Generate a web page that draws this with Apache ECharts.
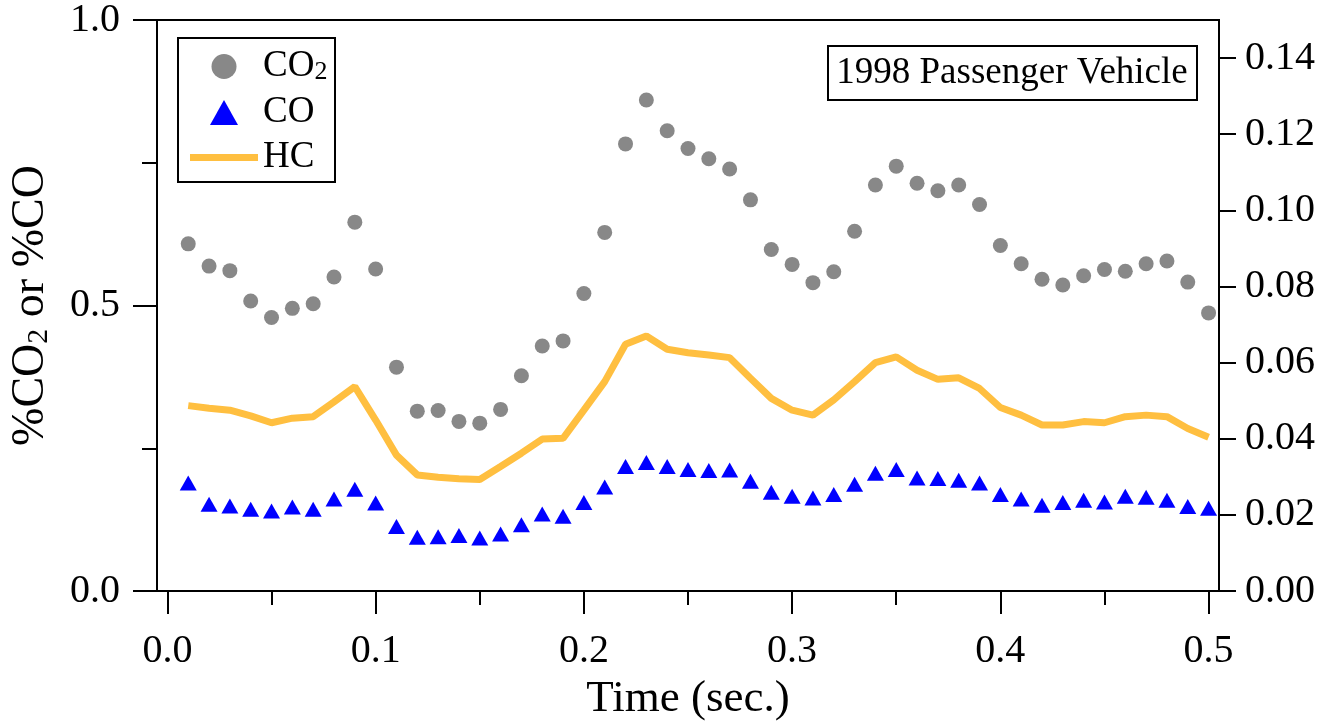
<!DOCTYPE html>
<html>
<head>
<meta charset="utf-8">
<script src="https://cdn.jsdelivr.net/npm/echarts@6/dist/echarts.min.js"></script>
<style>
  html, body { margin: 0; padding: 0; background: #fff; }
  #chart { width: 1325px; height: 726px; }
</style>
</head>
<body>
<div id="chart"></div>
<script>
// time stamps (sec.)
const times = [
  0.01, 0.02, 0.03, 0.04, 0.05, 0.06, 0.07, 0.08, 0.09, 0.10,
  0.11, 0.12, 0.13, 0.14, 0.15, 0.16, 0.17, 0.18, 0.19, 0.20,
  0.21, 0.22, 0.23, 0.24, 0.25, 0.26, 0.27, 0.28, 0.29, 0.30,
  0.31, 0.32, 0.33, 0.34, 0.35, 0.36, 0.37, 0.38, 0.39, 0.40,
  0.41, 0.42, 0.43, 0.44, 0.45, 0.46, 0.47, 0.48, 0.49, 0.50
]
// %CO2, left axis
const co2 = [
  0.608, 0.569, 0.561, 0.508, 0.479, 0.495, 0.503, 0.550, 0.646, 0.564,
  0.392, 0.315, 0.316, 0.297, 0.294, 0.318, 0.377, 0.429, 0.438, 0.521,
  0.628, 0.783, 0.860, 0.806, 0.775, 0.757, 0.739, 0.685, 0.598, 0.572,
  0.540, 0.559, 0.630, 0.711, 0.744, 0.714, 0.701, 0.711, 0.677, 0.605,
  0.573, 0.546, 0.536, 0.552, 0.563, 0.560, 0.573, 0.578, 0.541, 0.487
]
// %CO, left axis
const co = [
  0.189, 0.152, 0.149, 0.143, 0.140, 0.147, 0.143, 0.161, 0.178, 0.154,
  0.113, 0.094, 0.095, 0.097, 0.093, 0.100, 0.116, 0.135, 0.131, 0.155,
  0.182, 0.218, 0.225, 0.218, 0.213, 0.211, 0.212, 0.192, 0.173, 0.166,
  0.163, 0.169, 0.187, 0.206, 0.213, 0.198, 0.197, 0.194, 0.189, 0.169,
  0.161, 0.150, 0.155, 0.159, 0.156, 0.166, 0.164, 0.159, 0.148, 0.145
]
// HC, right axis
const hc = [
  0.0487, 0.0480, 0.0475, 0.0460, 0.0442, 0.0454, 0.0458, 0.0497, 0.0537, 0.0449,
  0.0357, 0.0305, 0.0299, 0.0295, 0.0293, 0.0327, 0.0362, 0.0399, 0.0401, 0.0475,
  0.0550, 0.0648, 0.0670, 0.0635, 0.0626, 0.0620, 0.0613, 0.0559, 0.0506, 0.0475,
  0.0462, 0.0502, 0.0550, 0.0600, 0.0615, 0.0580, 0.0556, 0.0560, 0.0532, 0.0482,
  0.0462, 0.0436, 0.0436, 0.0445, 0.0442, 0.0458, 0.0462, 0.0458, 0.0427, 0.0404
]

const xMajor = [0, 0.1, 0.2, 0.3, 0.4, 0.5]
const xMinor = [0.05, 0.15, 0.25, 0.35, 0.45]
const rightTicks = [0, 0.02, 0.04, 0.06, 0.08, 0.10, 0.12, 0.14]

const font = '"Liberation Serif", "Times New Roman", serif'
const black = '#000'
const gray = '#888888'
const blue = '#0000ff'
const orange = '#ffbf40'
const pairs = vals => times.map((t, i) => [t, vals[i]])

const chart = echarts.init(document.getElementById('chart'), null, { renderer: 'canvas' })

const axisLine = { show: true, onZero: false, lineStyle: { color: black, width: 2 } }
const labelStyle = { fontFamily: font, fontSize: 40, color: black }
const tickStyle = { color: black, width: 2 }
const legendText = {
  fontFamily: font, fontSize: 37, lineHeight: 37, color: black,
  rich: { sub: { fontFamily: font, fontSize: 26, lineHeight: 8, verticalAlign: 'bottom', color: black } }
}

chart.setOption({
  animation: false,
  backgroundColor: '#fff',
  grid: {
    left: 157, right: 106, top: 20, bottom: 135,
    outerBoundsMode: 'none', containLabel: false,
    show: true, borderColor: black, borderWidth: 2
  },
  legend: [
    {
      left: 210, top: 48, orient: 'vertical', padding: 0,
      itemWidth: 28, itemHeight: 25, itemGap: 9,
      data: ['CO2', 'CO'],
      formatter: name => name === 'CO2' ? 'CO{sub|2}' : name,
      textStyle: Object.assign({ padding: [0, 0, 0, 20] }, legendText)
    },
    {
      left: 190, top: 139, orient: 'vertical', padding: 0,
      itemWidth: 68, itemHeight: 7,
      data: [{ name: 'HC', icon: 'rect', itemStyle: { color: orange } }],
      textStyle: legendText
    }
  ],
  xAxis: [
    {
      type: 'value', min: -0.005, max: 0.505, position: 'bottom',
      axisLine: axisLine, splitLine: { show: false },
      axisTick: { customValues: xMajor, length: 23, lineStyle: tickStyle },
      axisLabel: Object.assign({ customValues: xMajor, formatter: v => Number(v).toFixed(1), margin: 40 }, labelStyle),
      name: 'Time (sec.)', nameLocation: 'middle', nameGap: 86,
      nameTextStyle: { fontFamily: font, fontSize: 45, color: black }
    },
    {
      type: 'value', min: -0.005, max: 0.505, position: 'bottom', offset: 0,
      axisLine: { show: false, onZero: false }, splitLine: { show: false },
      axisTick: { customValues: xMinor, length: 14, lineStyle: tickStyle },
      axisLabel: { show: false }
    }
  ],
  yAxis: [
    {
      type: 'value', min: 0, max: 1, interval: 0.5, position: 'left',
      axisLine: axisLine, splitLine: { show: false },
      axisTick: { length: 24, lineStyle: tickStyle },
      minorTick: { show: true, splitNumber: 2, length: 15, lineStyle: tickStyle },
      minorSplitLine: { show: false },
      axisLabel: Object.assign({ formatter: v => Number(v).toFixed(1), margin: 37 }, labelStyle),
      name: '%CO{sub|2} or %CO', nameLocation: 'middle', nameGap: 103, nameRotate: 90,
      nameTextStyle: {
        fontFamily: font, fontSize: 46, lineHeight: 46, color: black,
        rich: { sub: { fontFamily: font, fontSize: 30, lineHeight: 6, verticalAlign: 'bottom', color: black } }
      }
    },
    {
      type: 'value', min: 0, max: 0.15, position: 'right',
      axisLine: axisLine, splitLine: { show: false },
      axisTick: { customValues: rightTicks, length: 17, lineStyle: tickStyle },
      axisLabel: Object.assign({ customValues: rightTicks, formatter: v => Number(v).toFixed(2), margin: 26 }, labelStyle)
    }
  ],
  series: [
    {
      name: 'HC', type: 'line', xAxisIndex: 0, yAxisIndex: 1,
      data: pairs(hc), symbol: 'none',
      lineStyle: { color: orange, width: 7 },
      itemStyle: { color: orange }
    },
    {
      name: 'CO2', type: 'scatter', xAxisIndex: 0, yAxisIndex: 0,
      data: pairs(co2), symbol: 'circle', symbolSize: 15,
      itemStyle: { color: gray, opacity: 1 }
    },
    {
      name: 'CO', type: 'scatter', xAxisIndex: 0, yAxisIndex: 0,
      data: pairs(co), symbol: 'triangle', symbolSize: [17, 15],
      itemStyle: { color: blue, opacity: 1 }
    }
  ],
  graphic: [
    {
      type: 'rect', shape: { x: 178, y: 38, width: 157, height: 144 },
      style: { fill: 'none', stroke: black, lineWidth: 2 }, z: 100
    },
    {
      type: 'rect', shape: { x: 828, y: 46, width: 369, height: 54 },
      style: { fill: '#fff', stroke: black, lineWidth: 2 }, z: 100
    },
    {
      type: 'text', x: 1012, y: 73, z: 101,
      style: {
        text: '1998 Passenger Vehicle', fontFamily: font, fontSize: 37,
        fill: black, align: 'center', verticalAlign: 'middle'
      }
    }
  ]
})
</script>
</body>
</html>
